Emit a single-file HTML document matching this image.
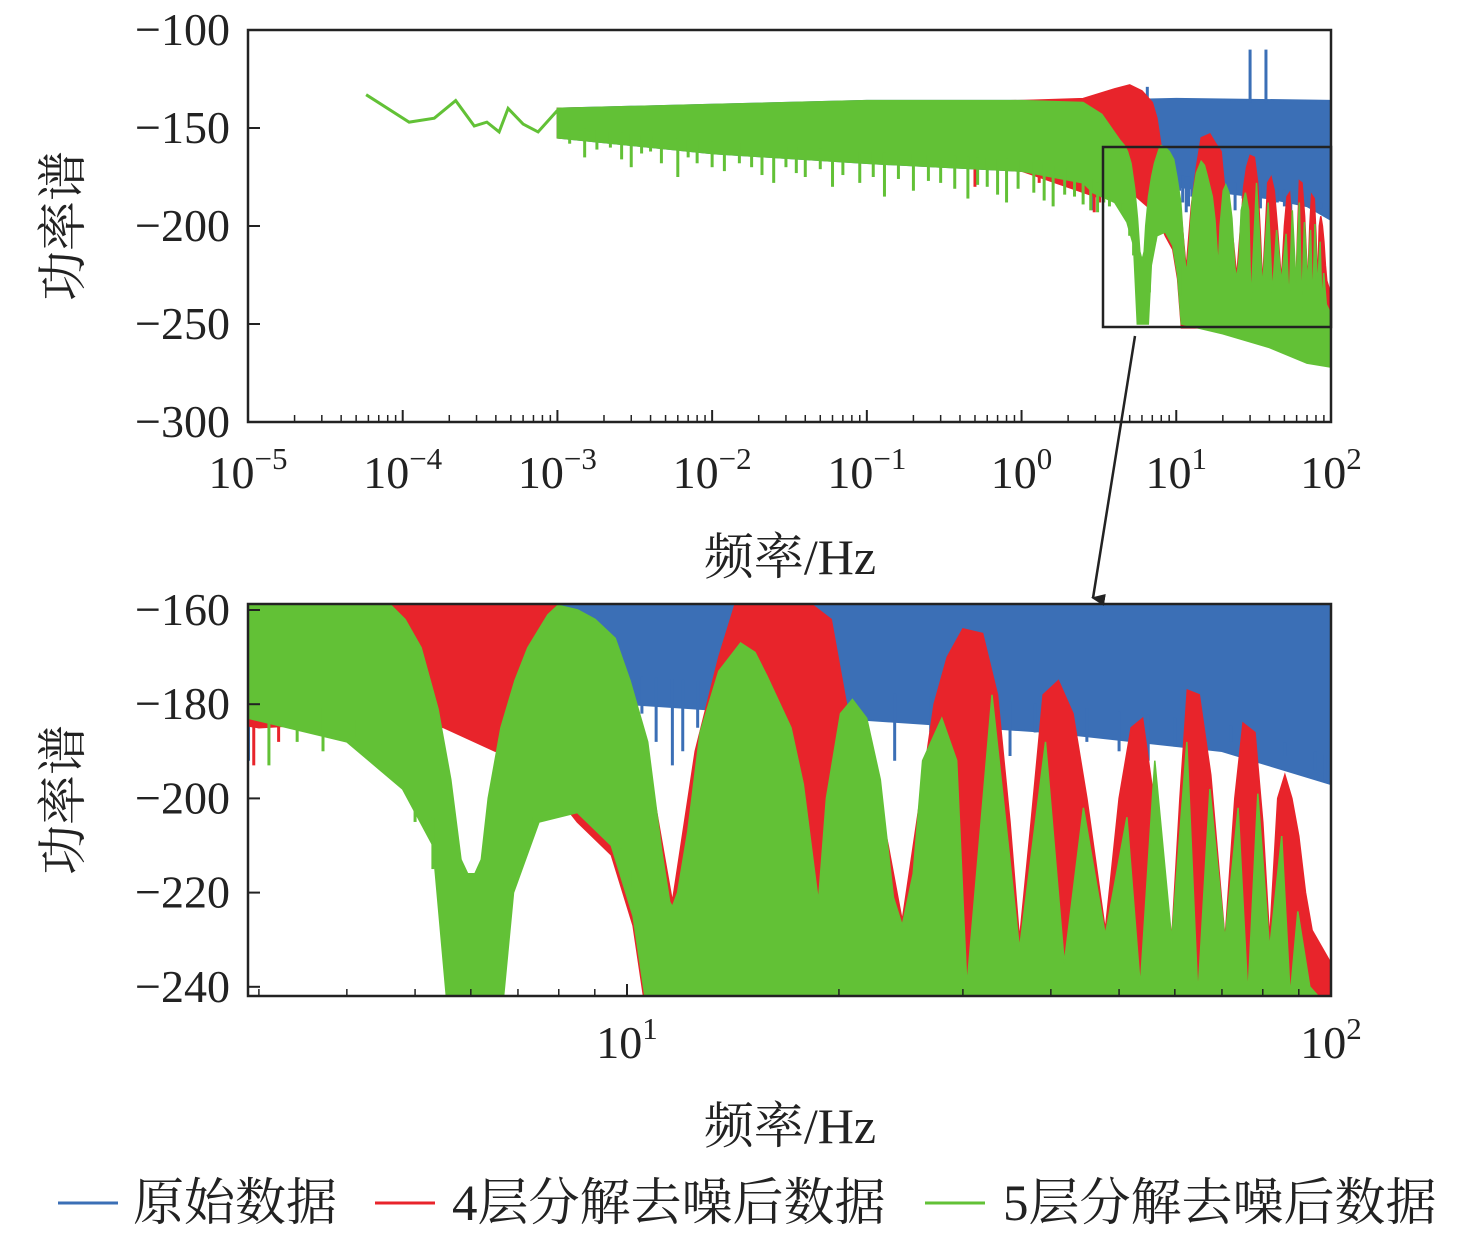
<!DOCTYPE html>
<html><head><meta charset="utf-8">
<style>
body{margin:0;background:#fff;}
svg text{font-family:"Liberation Serif","Noto Serif CJK SC","Noto Sans CJK SC",serif;fill:#222;}
</style></head>
<body>
<svg id="chart" width="1476" height="1237" viewBox="0 0 1476 1237" xmlns="http://www.w3.org/2000/svg">
<defs>
<clipPath id="clipTop"><rect x="248" y="30" width="1083" height="392"/></clipPath>
<clipPath id="clipBot"><rect x="248" y="604" width="1083" height="392"/></clipPath>
<marker id="arrowHead" markerWidth="12" markerHeight="14" refX="6" refY="12" orient="auto-start-reverse" markerUnits="userSpaceOnUse" viewBox="0 0 12 14"><path d="M0,0 L6,14 L12,0 Z" fill="#222"/></marker>
</defs>
<g id="topSeries" clip-path="url(#clipTop)"></g>
<g id="botSeries" clip-path="url(#clipBot)"></g>
<g id="axes"></g>
<rect x="248" y="30" width="1083" height="392" fill="none" stroke="#222" stroke-width="2.5"/>
<rect x="248" y="604" width="1083" height="392" fill="none" stroke="#222" stroke-width="2.5"/>
<rect x="1103" y="147" width="228" height="180" fill="none" stroke="#222" stroke-width="2.5"/>
<line x1="1135" y1="336" x2="1093" y2="598" stroke="#222" stroke-width="2.5" marker-end="url(#arrowHead)"/>
<text x="790" y="574" font-size="50" text-anchor="middle">频率/Hz</text>
<text x="790" y="1143" font-size="50" text-anchor="middle">频率/Hz</text>
<text transform="translate(80,226) rotate(-90)" font-size="50" text-anchor="middle">功率谱</text>
<text transform="translate(80,800) rotate(-90)" font-size="50" text-anchor="middle">功率谱</text>
<g>
<g><line x1="58" y1="1203" x2="118" y2="1203" stroke="#3b6fb6" stroke-width="3"/><text x="133" y="1220" font-size="51">原始数据</text></g>
<g><line x1="375" y1="1203" x2="435" y2="1203" stroke="#e8242b" stroke-width="3"/><text x="452" y="1220" font-size="51">4层分解去噪后数据</text></g>
<g><line x1="925" y1="1203" x2="985" y2="1203" stroke="#62c136" stroke-width="3"/><text x="1003" y="1220" font-size="51">5层分解去噪后数据</text></g>
</g>
</svg>
<script>
const BLUE="#3b6fb6", RED="#e8242b", GREEN="#62c136";
// ---- data (frequency Hz, power dB) ----
const blueUpper=[[1e-3,-140],[0.01,-138],[0.1,-136],[1,-136],[3,-136],[10,-135],[100,-136]];
const blueLower=[[1e-3,-155],[0.01,-163],[0.1,-168],[1,-172],[3,-178],[10,-180],[20,-183],[40,-186],[70,-190],[100,-197]];
const blueSpikesUp=[[5.2,-132],[6.5,-129],[30,-110],[38,-110]];
const blueSpikesDown=[[2.9,-192],[3.05,-183],[6.3,-182],[6.5,-186],[7.0,-188],[10.5,-182],[11,-188],[11.6,-193],[12,-190],[12.6,-185],[18.9,-184],[20.6,-182],[24,-192],[27,-186],[31,-188],[35,-191],[38,-186],[42,-192],[45,-188],[50,-190],[55,-192],[60,-189],[65,-193],[72,-188],[78,-192],[86,-191],[95,-194],[98,-196]];

const redUpper=[[1e-3,-140],[1,-136],[2.5,-135],[4,-130],[5,-128],[6,-131],[7,-137],[7.5,-145],[8,-160],[8.5,-163],[9.5,-167],[10.5,-185],[11.6,-222],[12.5,-190],[13.5,-170],[14.5,-155],[16.5,-153],[18,-158],[19.5,-162],[20.5,-180],[22,-190],[23.5,-210],[24.6,-226],[25.8,-205],[27.3,-180],[28.5,-170],[30,-164],[32,-165],[33.6,-178],[35,-205],[36.1,-230],[37.5,-205],[39,-178],[41,-175],[43,-182],[45,-200],[47.8,-228],[50,-200],[52,-185],[54,-183],[56,-200],[59.4,-230],[61,-200],[62.5,-177],[65,-178],[67.5,-195],[70.7,-230],[73,-200],[75,-184],[78,-186],[80,-205],[81.8,-230],[84,-200],[86,-195],[88,-200],[90,-208],[92,-220],[94,-228],[100,-235]];
const redLower=[[1e-3,-155],[1,-172],[3,-185],[5,-183],[5.5,-185],[6.5,-190],[7.5,-182],[8,-200],[8.5,-205],[9.5,-212],[10.2,-227],[10.8,-252],[20,-252],[50,-258],[100,-262]];
const redSpikes=[[0.5,-180],[1.3,-178],[2.95,-193],[3.2,-188],[3.3,-183],[3.6,-182],[12.8,-228],[15,-215],[17,-198],[20,-220],[22,-225]];

const greenLine=[[5.8e-5,-133],[1.1e-4,-147],[1.6e-4,-145],[2.2e-4,-136],[2.9e-4,-149],[3.5e-4,-147],[4.2e-4,-152],[4.8e-4,-140],[6e-4,-148],[7.5e-4,-152],[1e-3,-141]];
const greenUpper=[[1e-3,-140],[0.01,-138],[0.1,-136],[1,-136],[2.5,-137],[3.3,-143],[4.3,-156],[4.62,-159],[4.84,-162],[5.1,-168],[5.39,-181],[5.62,-196],[5.81,-213],[5.94,-216],[6.08,-216],[6.21,-213],[6.35,-200],[6.62,-185],[6.93,-175],[7.23,-168],[7.72,-161],[7.98,-159],[8.51,-160],[9.01,-162],[9.62,-166],[10.1,-175],[10.7,-188],[11.2,-211],[11.5,-222],[11.6,-223],[11.8,-220],[12.2,-207],[12.7,-186],[13.5,-173],[14.5,-167],[15.2,-169],[15.8,-174],[17.1,-185],[17.8,-197],[18.7,-222],[19.2,-200],[20.1,-182],[20.9,-179],[21.9,-183],[22.9,-196],[23.9,-221],[24.6,-227],[25.5,-216],[26.3,-192],[28.0,-183],[29.4,-192],[30.4,-240],[33.0,-178],[36.1,-232],[39.3,-188],[41.8,-235],[44.5,-202],[47.8,-229],[51.3,-204],[53.6,-240],[56.2,-192],[59.4,-230],[62.4,-188],[64.7,-242],[67.3,-198],[70.7,-230],[73.8,-202],[76.2,-242],[78.7,-199],[81.8,-232],[85.1,-208],[87.5,-242],[89.7,-224],[93.3,-240],[100,-245]];
const greenLower=[[1e-3,-155],[0.01,-163],[0.1,-168],[1,-172],[2.5,-178],[2.9,-183],[4.0,-188],[4.8,-198],[5.3,-210],[5.6,-250],[6.6,-250],[6.9,-220],[7.5,-205],[8.5,-203],[9.5,-210],[10.2,-225],[10.8,-250],[20,-255],[40,-262],[70,-270],[100,-272]];
const greenSpikes=[[1.2e-3,-158],[1.5e-3,-165],[1.8e-3,-161],[2.2e-3,-160],[2.6e-3,-166],[3e-3,-170],[3.5e-3,-163],[4e-3,-162],[4.7e-3,-168],[6e-3,-175],[7e-3,-165],[8e-3,-168],[1e-2,-170],[1.2e-2,-172],[1.5e-2,-168],[1.8e-2,-170],[2.1e-2,-174],[2.5e-2,-178],[3e-2,-170],[3.5e-2,-173],[4e-2,-175],[5e-2,-171],[6e-2,-180],[7e-2,-174],[9e-2,-178],[0.11,-175],[0.13,-185],[0.16,-176],[0.2,-182],[0.25,-177],[0.3,-178],[0.37,-181],[0.45,-186],[0.52,-179],[0.6,-180],[0.7,-184],[0.8,-188],[0.95,-181],[1.2,-183],[1.4,-187],[1.6,-190],[1.9,-184],[2.2,-185],[2.5,-189],[2.8,-192],[3.1,-193],[3.4,-188],[3.7,-190],[4.1,-187],[4.5,-192],[5.0,-205],[5.3,-215],[6.7,-218],[7.0,-212],[7.3,-208],[9.8,-210],[10.2,-215],[10.6,-220]];

const topXTicks=[-5,-4,-3,-2,-1,0,1,2];
const topYTicks=[-100,-150,-200,-250,-300];
const botXTicks=[1,2];
const botYTicks=[-160,-180,-200,-220,-240];

// ---- axis functions ----
const xTop=f=>248+(Math.log10(f)+5)*154.71;
const yTop=d=>30+(-100-d)*1.96;
const xBot=f=>627+(Math.log10(f)-1)*704;
const yBot=d=>610+(-160-d)*4.71;

const NS="http://www.w3.org/2000/svg";
function mk(tag,attrs,parent){const e=document.createElementNS(NS,tag);for(const k in attrs)e.setAttribute(k,attrs[k]);parent.appendChild(e);return e;}
function interp(arr,f){const L=Math.log10(f);for(let i=0;i<arr.length-1;i++){const a=Math.log10(arr[i][0]),b=Math.log10(arr[i+1][0]);if(L>=a&&L<=b){const t=(L-a)/(b-a);return arr[i][1]+t*(arr[i+1][1]-arr[i][1]);}}return arr[arr.length-1][1];}

function drawSeries(g,X,Y,upper,lower,spikes,color,name){
  const pts=upper.map(p=>X(p[0]).toFixed(1)+','+Y(p[1]).toFixed(1)).concat(lower.slice().reverse().map(p=>X(p[0]).toFixed(1)+','+Y(p[1]).toFixed(1)));
  const poly=mk('polygon',{points:pts.join(' '),fill:color,stroke:color,'stroke-width':1.5},g);
  
  
  spikes.forEach(s=>{
    const start=interp(lower,s[0])+6;
    const ln=mk('line',{x1:X(s[0]),x2:X(s[0]),y1:Y(Math.min(start,-136)),y2:Y(s[1]),stroke:color,'stroke-width':3},g);
    
    
  });
}
function drawAll(g,X,Y){
  drawSeries(g,X,Y,blueUpper,blueLower,blueSpikesDown,BLUE,'original-data');
  blueSpikesUp.forEach(s=>{
    const ln=mk('line',{x1:X(s[0]),x2:X(s[0]),y1:Y(-137),y2:Y(s[1]),stroke:BLUE,'stroke-width':3},g);
    
    
  });
  drawSeries(g,X,Y,redUpper,redLower,redSpikes,RED,'level4-denoised');
  drawSeries(g,X,Y,greenUpper,greenLower,greenSpikes,GREEN,'level5-denoised');
  const pl=mk('polyline',{points:greenLine.map(p=>X(p[0])+','+Y(p[1])).join(' '),fill:'none',stroke:GREEN,'stroke-width':3},g);
  
  
}
drawAll(document.getElementById('topSeries'),xTop,yTop);
drawAll(document.getElementById('botSeries'),xBot,yBot);

// ---- axes ----
const ax=document.getElementById('axes');
function txt(x,y,s,size,anchor,parent){const t=mk('text',{x:x,y:y,'font-size':size,'text-anchor':anchor},parent);t.textContent=s;return t;}
topXTicks.forEach((e,i)=>{
  const x=xTop(Math.pow(10,e));
  const tk=mk('line',{x1:x,x2:x,y1:422,y2:410,stroke:'#222','stroke-width':2},ax);
  
  
  const t=mk('text',{x:x,y:488,'font-size':46,'text-anchor':'middle'},ax);
  
  
  const b=document.createElementNS(NS,'tspan');b.textContent='10';t.appendChild(b);
  const sp=document.createElementNS(NS,'tspan');sp.setAttribute('dy','-19');sp.setAttribute('font-size','31');sp.textContent=(e<0?'\u2212':'')+Math.abs(e);t.appendChild(sp);
  if(i<topXTicks.length-1){for(let m=2;m<=9;m++){const xm=xTop(m*Math.pow(10,e));const l=mk('line',{x1:xm,x2:xm,y1:422,y2:415,stroke:'#222','stroke-width':1.5},ax);}}
});
topYTicks.forEach(v=>{
  const y=yTop(v);
  const tk=mk('line',{x1:248,x2:260,y1:y,y2:y,stroke:'#222','stroke-width':2},ax);
  
  
  const t=txt(230,y+15,'\u2212'+Math.abs(v),46,'end',ax);
  
  
});
for(let m=3;m<=100;m++){
  if(m>10&&m%10!==0)continue;
  const x=xBot(m);const major=(m===10||m===100);
  const l=mk('line',{x1:x,x2:x,y1:996,y2:major?984:989,stroke:'#222','stroke-width':major?2:1.5},ax);
  
  
}
botXTicks.forEach(e=>{
  const x=xBot(Math.pow(10,e));
  const t=mk('text',{x:x,y:1058,'font-size':46,'text-anchor':'middle'},ax);
  
  
  const b=document.createElementNS(NS,'tspan');b.textContent='10';t.appendChild(b);
  const sp=document.createElementNS(NS,'tspan');sp.setAttribute('dy','-19');sp.setAttribute('font-size','31');sp.textContent=String(e);t.appendChild(sp);
});
botYTicks.forEach(v=>{
  const y=yBot(v);
  const tk=mk('line',{x1:248,x2:260,y1:y,y2:y,stroke:'#222','stroke-width':2},ax);
  
  
  const t=txt(230,y+15,'\u2212'+Math.abs(v),46,'end',ax);
  
  
});
</script>
</body></html>
